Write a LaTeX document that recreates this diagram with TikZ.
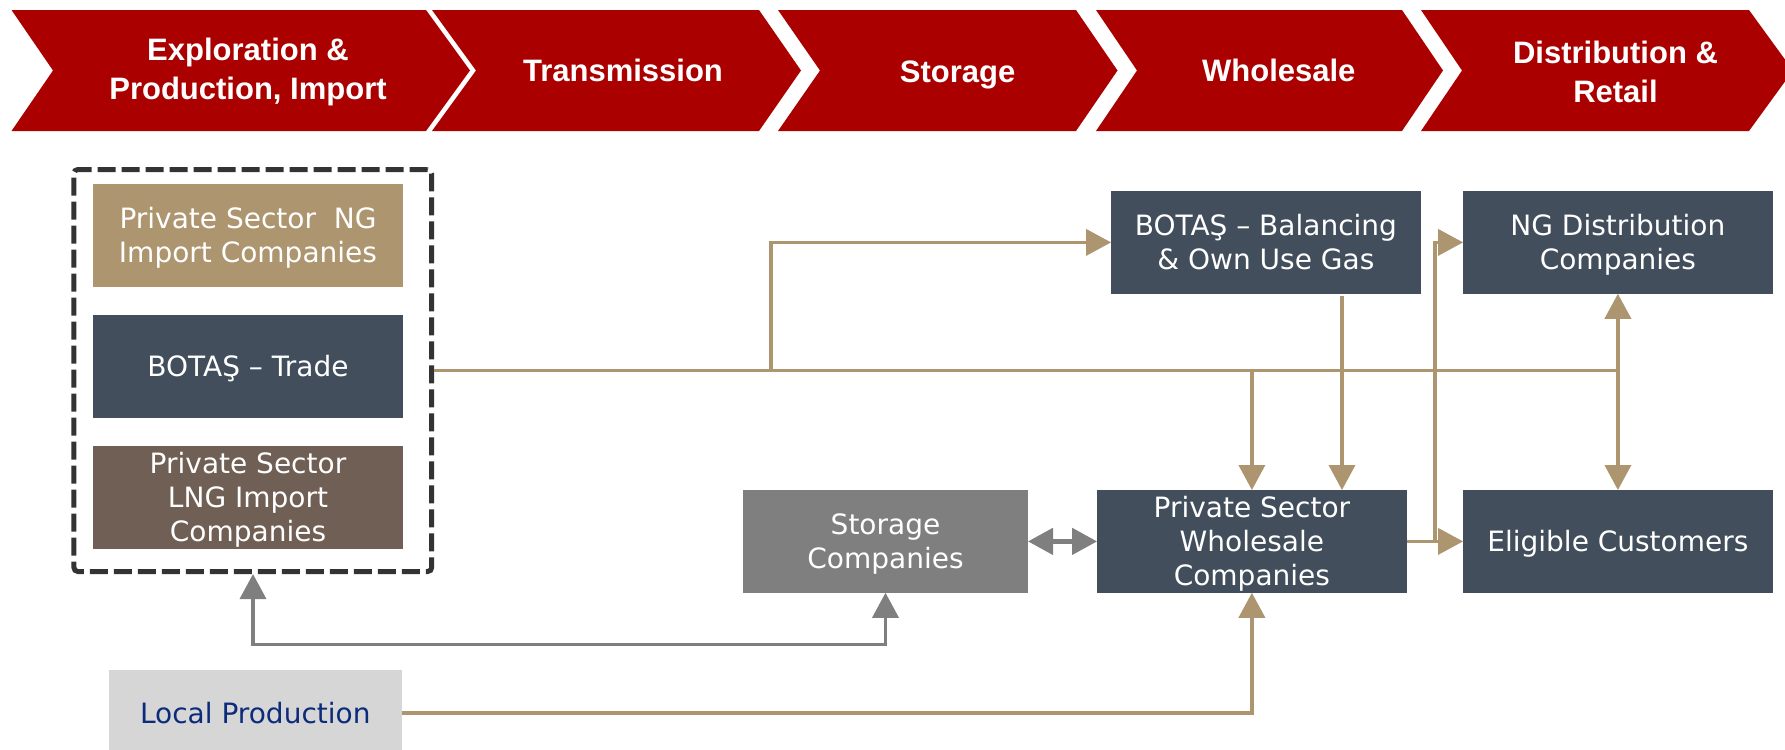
\documentclass[tikz,border=0pt]{standalone}
\usepackage{fontspec}
\setmainfont{DejaVu Sans}
\newfontfamily\chevfont{Liberation Sans}
\usetikzlibrary{arrows.meta,calc}
\definecolor{chevred}{HTML}{AA0000}
\definecolor{tanc}{HTML}{AD966F}
\definecolor{slate}{HTML}{424E5C}
\definecolor{brownc}{HTML}{705F54}
\definecolor{grayc}{HTML}{7F7F7F}
\definecolor{lightg}{HTML}{D6D6D6}
\definecolor{navy}{HTML}{0C2B7A}
\definecolor{dashc}{HTML}{333333}
\newcommand{\lowtext}[1]{\raisebox{-1.7pt}[\height][\depth]{\begin{tabular}{@{}c@{}}#1\end{tabular}}}
\begin{document}
\begin{tikzpicture}[x=0.5pt,y=-0.5pt,
  chevtext/.style={text=white,font=\chevfont\bfseries\fontsize{15.5}{19.5}\selectfont,align=center,inner sep=0pt},
  box/.style={minimum width=154.8pt,minimum height=51.35pt,inner sep=0pt,outer sep=0pt,text=white,font=\fontsize{14}{16.8}\selectfont},
  tanline/.style={draw=tanc,line width=1.8pt},
  tanarrow/.style={tanline,-{Triangle[length=12.5pt,width=13pt]}},
  tanboth/.style={tanline,{Triangle[length=12.5pt,width=13pt]}-{Triangle[length=12.5pt,width=13pt]}},
  grayboth/.style={draw=grayc,line width=1.7pt,{Triangle[length=12.5pt,width=13pt]}-{Triangle[length=12.5pt,width=13pt]}},
  graythick/.style={grayboth,line width=2.3pt}
]
\useasboundingbox (0,0) rectangle (1785,750);
\clip (0,0) rectangle (1785,750);

% chevrons
\fill[chevred] (11.5,10) -- (426,10) -- (470,70.5) -- (426,131) -- (11.5,131) -- (53,70.5) -- cycle;
\fill[chevred] (432,10) -- (759,10) -- (801,70.5) -- (759,131) -- (432,131) -- (476,70.5) -- cycle;
\fill[chevred] (778,10) -- (1076,10) -- (1117.5,70.5) -- (1076,131) -- (778,131) -- (820,70.5) -- cycle;
\fill[chevred] (1096,10) -- (1402,10) -- (1443,70.5) -- (1402,131) -- (1096,131) -- (1137,70.5) -- cycle;
\fill[chevred] (1421,10) -- (1749,10) -- (1793,70.5) -- (1749,131) -- (1421,131) -- (1462,70.5) -- cycle;

\node[chevtext] (c1) at (248,71.5) {Exploration \&\\Production, Import};
\node[chevtext] (c2) at (623,70) {Transmission};
\node[chevtext] (c3) at (957.6,74.5) {Storage};
\node[chevtext] (c4) at (1278.8,70) {Wholesale};
\node[chevtext] (c5) at (1615.5,71.5) {Distribution \&\\Retail};

% import group
\node[draw=dashc,line width=2.5pt,dash pattern=on 9pt off 3pt,rounded corners=2pt,
      minimum width=178.9pt,minimum height=201pt,inner sep=0pt] (imp) at (252.8,370.5) {};
\node[box,fill=tanc] (png) at (248,235.3) {\lowtext{Private Sector~ NG\\Import Companies}};
\node[box,fill=slate] (trade) at (248,366.3) {\lowtext{BOTAŞ – Trade}};
\node[box,fill=brownc] (lng) at (248,497.3) {\lowtext{Private Sector\\LNG Import\\Companies}};

% right side boxes
\node[box,fill=slate] (balancing) at (1265.9,242.4) {\lowtext{BOTAŞ – Balancing\\\& Own Use Gas}};
\node[box,fill=slate] (ngdist) at (1617.9,242.4) {\lowtext{NG Distribution\\Companies}};
\node[box,fill=grayc,minimum width=142.5pt] (storage) at (885.5,541.4) {\lowtext{Storage\\Companies}};
\node[box,fill=slate] (wholesale) at (1251.9,541.4) {\lowtext{Private Sector\\Wholesale\\Companies}};
\node[box,fill=slate] (eligible) at (1617.9,541.4) {\lowtext{Eligible Customers}};
\node[box,fill=lightg,text=navy,minimum width=146.25pt,minimum height=43pt] (local) at (255.3,713) {Local Production};

% helper coordinates
\coordinate (jA) at (771,0);
\coordinate (cB) at (1342,0);
\coordinate (cV) at (1435,0);
\coordinate (g1) at (253,644.3);

% connectors
\draw[tanline] (imp.east) -- (imp.east -| ngdist.south);
\draw[tanarrow] (imp.east -| jA) |- (balancing.west);
\draw[tanarrow] (imp.east -| wholesale.north) -- (wholesale.north);
\draw[tanarrow] ([yshift=-1pt]balancing.south -| cB) -- (wholesale.north -| cB);
\draw[tanboth] (ngdist.south) -- (eligible.north);
\draw[tanarrow] (wholesale.east) -- (eligible.west);
\draw[tanarrow] (wholesale.east -| cV) |- (ngdist.west);
\draw[graythick] (storage.east) -- (wholesale.west);
\draw[grayboth] (imp.south -| g1) -- (g1) -| (storage.south);
\draw[tanarrow] (local.east) -| (wholesale.south);
\end{tikzpicture}
\end{document}
